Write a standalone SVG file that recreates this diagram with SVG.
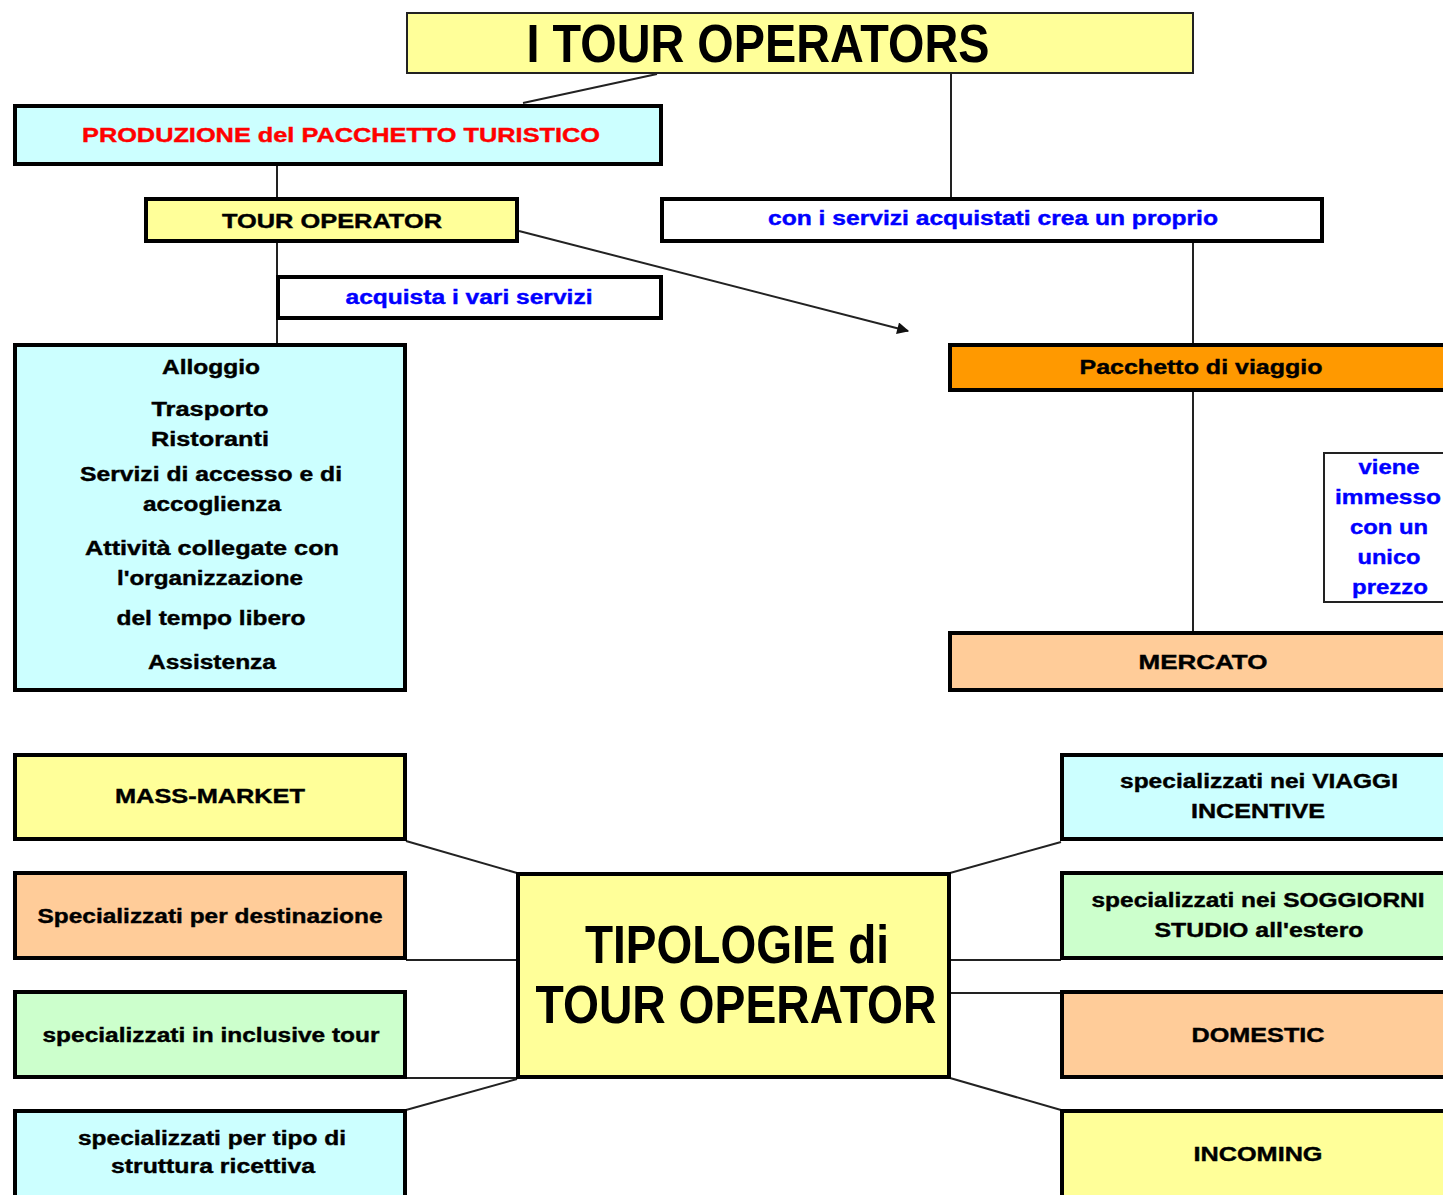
<svg xmlns="http://www.w3.org/2000/svg" width="1443" height="1195" viewBox="0 0 1443 1195">
  <defs>
    <style>
      .box { stroke: #000; stroke-width: 4; }
      .thin { stroke: #222; stroke-width: 2; }
      .yellow { fill: #FFFF99; }
      .cyan { fill: #CCFFFF; }
      .peach { fill: #FFCC99; }
      .green { fill: #CCFFCC; }
      .orange { fill: #FF9900; }
      .white { fill: #FFFFFF; }
      text { font-family: "Liberation Sans", Arial, sans-serif; font-weight: bold; text-anchor: middle; }
      .t { font-size: 20px; fill: #000; stroke: #000; stroke-width: 0.4; }
      .blue { fill: #0000FF; stroke: #0000FF; }
      .red { fill: #FF0000; stroke: #FF0000; }
      .big { font-size: 53px; fill: #000; }
      .conn line { stroke: #222; stroke-width: 2; fill: none; }
    </style>
    <marker id="arrow" viewBox="0 0 10 10" refX="9" refY="5" markerWidth="15" markerHeight="12" markerUnits="userSpaceOnUse" orient="auto">
      <path d="M0,0 L10,5 L0,10 z" fill="#111"/>
    </marker>
  </defs>
  <rect width="1443" height="1195" fill="#FFFFFF"/>

  <!-- connectors -->
  <g class="conn">
    <line x1="657" y1="74" x2="523" y2="103"/>
    <line x1="277" y1="166" x2="277" y2="199"/>
    <line x1="277" y1="241" x2="277" y2="345"/>
    <line x1="519" y1="231" x2="908" y2="331" marker-end="url(#arrow)"/>
    <line x1="951" y1="73" x2="951" y2="199"/>
    <line x1="1193" y1="241" x2="1193" y2="345"/>
    <line x1="1193" y1="390" x2="1193" y2="633"/>
    <line x1="406" y1="841" x2="517" y2="873"/>
    <line x1="406" y1="960" x2="517" y2="960"/>
    <line x1="406" y1="1078" x2="517" y2="1078"/>
    <line x1="517" y1="1079" x2="406" y2="1110"/>
    <line x1="950" y1="873" x2="1061" y2="842"/>
    <line x1="950" y1="960" x2="1061" y2="960"/>
    <line x1="950" y1="993" x2="1061" y2="993"/>
    <line x1="950" y1="1078" x2="1061" y2="1110"/>
  </g>

  <g id="title">
    <rect class="thin yellow" x="407" y="13" width="786" height="60"/>
    <text class="big" x="758" y="62" textLength="463" lengthAdjust="spacingAndGlyphs">I TOUR OPERATORS</text>
  </g>

  <g id="produzione">
    <rect class="box cyan" x="15" y="106" width="646" height="58"/>
    <text class="t red" x="341" y="142" textLength="518" lengthAdjust="spacingAndGlyphs">PRODUZIONE del PACCHETTO TURISTICO</text>
  </g>

  <g id="tour-operator">
    <rect class="box yellow" x="146" y="199" width="371" height="42"/>
    <text class="t" x="332" y="228" textLength="220" lengthAdjust="spacingAndGlyphs">TOUR OPERATOR</text>
  </g>

  <g id="acquista">
    <rect class="box white" x="278" y="277" width="383" height="41"/>
    <text class="t blue" x="469" y="304" textLength="247" lengthAdjust="spacingAndGlyphs">acquista i vari servizi</text>
  </g>

  <g id="crea">
    <rect class="box white" x="662" y="199" width="660" height="42"/>
    <text class="t blue" x="993" y="225" textLength="450" lengthAdjust="spacingAndGlyphs">con i servizi acquistati crea un proprio</text>
  </g>

  <g id="pacchetto">
    <rect class="box orange" x="950" y="345" width="510" height="45"/>
    <text class="t" x="1201" y="374" textLength="243" lengthAdjust="spacingAndGlyphs">Pacchetto di viaggio</text>
  </g>

  <g id="immesso">
    <rect class="thin white" x="1324" y="453" width="140" height="149"/>
    <text class="t blue" x="1389" y="474" textLength="61" lengthAdjust="spacingAndGlyphs">viene</text>
    <text class="t blue" x="1388" y="504" textLength="106" lengthAdjust="spacingAndGlyphs">immesso</text>
    <text class="t blue" x="1389" y="534" textLength="78" lengthAdjust="spacingAndGlyphs">con un</text>
    <text class="t blue" x="1389" y="564" textLength="63" lengthAdjust="spacingAndGlyphs">unico</text>
    <text class="t blue" x="1390" y="594" textLength="76" lengthAdjust="spacingAndGlyphs">prezzo</text>
  </g>

  <g id="mercato">
    <rect class="box peach" x="950" y="633" width="510" height="57"/>
    <text class="t" x="1203" y="669" textLength="129" lengthAdjust="spacingAndGlyphs">MERCATO</text>
  </g>

  <g id="servizi">
    <rect class="box cyan" x="15" y="345" width="390" height="345"/>
    <text class="t" x="211" y="374" textLength="98" lengthAdjust="spacingAndGlyphs">Alloggio</text>
    <text class="t" x="210" y="416" textLength="117" lengthAdjust="spacingAndGlyphs">Trasporto</text>
    <text class="t" x="210" y="446" textLength="118" lengthAdjust="spacingAndGlyphs">Ristoranti</text>
    <text class="t" x="211" y="481" textLength="262" lengthAdjust="spacingAndGlyphs">Servizi di accesso e di</text>
    <text class="t" x="212" y="511" textLength="138" lengthAdjust="spacingAndGlyphs">accoglienza</text>
    <text class="t" x="212" y="555" textLength="254" lengthAdjust="spacingAndGlyphs">Attività collegate con</text>
    <text class="t" x="210" y="585" textLength="186" lengthAdjust="spacingAndGlyphs">l'organizzazione</text>
    <text class="t" x="211" y="625" textLength="189" lengthAdjust="spacingAndGlyphs">del tempo libero</text>
    <text class="t" x="212" y="669" textLength="128" lengthAdjust="spacingAndGlyphs">Assistenza</text>
  </g>

  <g id="mass-market">
    <rect class="box yellow" x="15" y="755" width="390" height="84"/>
    <text class="t" x="210" y="803" textLength="190" lengthAdjust="spacingAndGlyphs">MASS-MARKET</text>
  </g>

  <g id="destinazione">
    <rect class="box peach" x="15" y="873" width="390" height="85"/>
    <text class="t" x="210" y="923" textLength="345" lengthAdjust="spacingAndGlyphs">Specializzati per destinazione</text>
  </g>

  <g id="inclusive">
    <rect class="box green" x="15" y="992" width="390" height="85"/>
    <text class="t" x="211" y="1042" textLength="337" lengthAdjust="spacingAndGlyphs">specializzati in inclusive tour</text>
  </g>

  <g id="struttura">
    <rect class="box cyan" x="15" y="1111" width="390" height="100"/>
    <text class="t" x="212" y="1145" textLength="268" lengthAdjust="spacingAndGlyphs">specializzati per tipo di</text>
    <text class="t" x="213" y="1173" textLength="204" lengthAdjust="spacingAndGlyphs">struttura ricettiva</text>
  </g>

  <g id="tipologie">
    <rect class="box yellow" x="518" y="874" width="431" height="203"/>
    <text class="big" x="737" y="963" textLength="304" lengthAdjust="spacingAndGlyphs">TIPOLOGIE di</text>
    <text class="big" x="736" y="1023" textLength="401" lengthAdjust="spacingAndGlyphs">TOUR OPERATOR</text>
  </g>

  <g id="incentive">
    <rect class="box cyan" x="1062" y="755" width="400" height="84"/>
    <text class="t" x="1259" y="788" textLength="278" lengthAdjust="spacingAndGlyphs">specializzati nei VIAGGI</text>
    <text class="t" x="1258" y="818" textLength="134" lengthAdjust="spacingAndGlyphs">INCENTIVE</text>
  </g>

  <g id="soggiorni">
    <rect class="box green" x="1062" y="873" width="400" height="85"/>
    <text class="t" x="1258" y="907" textLength="333" lengthAdjust="spacingAndGlyphs">specializzati nei SOGGIORNI</text>
    <text class="t" x="1259" y="937" textLength="209" lengthAdjust="spacingAndGlyphs">STUDIO all'estero</text>
  </g>

  <g id="domestic">
    <rect class="box peach" x="1062" y="992" width="400" height="85"/>
    <text class="t" x="1258" y="1042" textLength="133" lengthAdjust="spacingAndGlyphs">DOMESTIC</text>
  </g>

  <g id="incoming">
    <rect class="box yellow" x="1062" y="1111" width="400" height="100"/>
    <text class="t" x="1258" y="1161" textLength="129" lengthAdjust="spacingAndGlyphs">INCOMING</text>
  </g>
</svg>
